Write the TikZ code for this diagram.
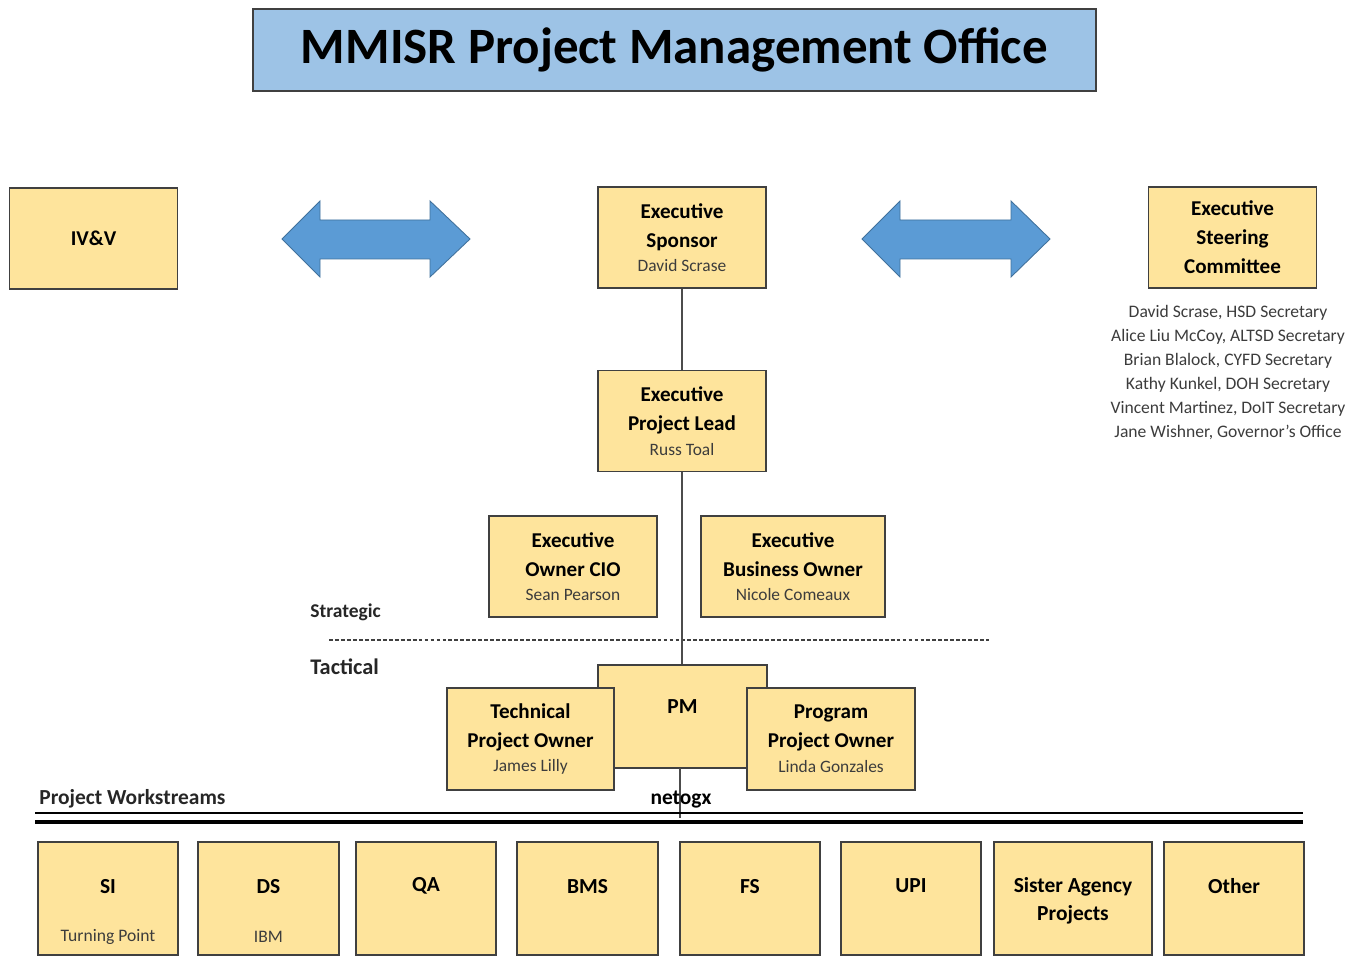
\documentclass[tikz,border=0pt]{standalone}
\usepackage{fontspec}
\setmainfont{Carlito}
\usepackage{tikz}
\usetikzlibrary{positioning,calc}

\definecolor{boxfill}{RGB}{254,228,156}
\definecolor{boxline}{RGB}{64,64,64}
\definecolor{titlefill}{RGB}{157,195,230}
\definecolor{arrowfill}{RGB}{91,155,213}
\definecolor{arrowline}{RGB}{65,113,156}
\definecolor{nametext}{RGB}{60,60,60}

% person under a role title
\newcommand{\who}[1]{\\[-2.5pt]{\mdseries\fontsize{9.9}{11}\selectfont\color{nametext}#1}}

\begin{document}
\begin{tikzpicture}[
    orgbox/.style={rectangle, draw=boxline, line width=1pt, fill=boxfill, align=center, inner sep=0pt, font=\fontsize{12}{16.5}\selectfont\bfseries},
    ebox/.style={orgbox, minimum width=3.36cm, minimum height=2.02cm},
    wbox/.style={orgbox, minimum width=2.8cm, minimum height=2.26cm},
    stream/.style={align=center, inner sep=0pt, font=\fontsize{12.2}{16}\selectfont\bfseries},
    vendor/.style={inner sep=0pt, text=nametext, font=\fontsize{10}{11}\selectfont},
    tag/.style={anchor=west, inner sep=0pt, font=\fontsize{12}{14}\selectfont\bfseries, text=black!85},
    link/.style={draw=black!70, line width=0.6pt},
    bigarrow/.style={fill=arrowfill, draw=arrowline, line width=0.5pt}
]
    \useasboundingbox (0,0) rectangle (27.18,-19.12);

    % Title
    \node[orgbox, fill=titlefill, minimum width=16.86cm, minimum height=1.64cm, font=\fontsize{29}{32}\selectfont\bfseries] (title) at (13.49,-1.0) {MMISR Project Management Office};

    % Executive layer
    \node[ebox] (ivv) at (1.87,-4.77) {IV\&V};
    \node[ebox] (sponsor) at (13.64,-4.75) {Executive\\Sponsor\who{David Scrase}};
    \node[ebox] (steering) at (24.65,-4.75) {Executive\\Steering\\Committee};
    \node[inner sep=0pt, anchor=north, align=center, text=nametext, font=\fontsize{10}{13.6}\selectfont] (members) at (24.56,-6.1)
        {David Scrase, HSD Secretary\\Alice Liu McCoy, ALTSD Secretary\\Brian Blalock, CYFD Secretary\\Kathy Kunkel, DOH Secretary\\Vincent Martinez, DoIT Secretary\\Jane Wishner, Governor’s Office};

    \filldraw[bigarrow] (5.64,-4.78) -- (6.4,-4.02) -- (6.4,-4.4) -- (8.6,-4.4) -- (8.6,-4.02) -- (9.4,-4.78)
        -- (8.6,-5.54) -- (8.6,-5.18) -- (6.4,-5.18) -- (6.4,-5.54) -- cycle;
    \filldraw[bigarrow] (17.24,-4.78) -- (18.0,-4.02) -- (18.0,-4.4) -- (20.22,-4.4) -- (20.22,-4.02) -- (21.0,-4.78)
        -- (20.22,-5.54) -- (20.22,-5.18) -- (18.0,-5.18) -- (18.0,-5.54) -- cycle;

    \node[ebox] (lead) at (13.64,-8.42) {Executive\\Project Lead\who{Russ Toal}};
    \node[ebox] (cio) at (11.46,-11.33) {Executive\\Owner CIO\who{Sean Pearson}};
    \node[ebox, minimum width=3.68cm] (business) at (15.86,-11.33) {Executive\\Business Owner\who{Nicole Comeaux}};

    % Strategic / tactical split
    \coordinate (splitL) at (6.58,-12.8);
    \coordinate (splitR) at (19.78,-12.8);
    \draw[black!75, line width=0.6pt, dash pattern=on 2.2pt off 1.2pt] (splitL) -- (splitR);
    \node[tag, font=\fontsize{11.1}{13}\selectfont\bfseries] (strategic) at (6.2,-12.24) {Strategic};
    \node[tag, font=\fontsize{12.7}{14}\selectfont\bfseries] (tactical) at (6.2,-13.34) {Tactical};

    % Project level
    \coordinate (wsjoin) at (13.6,-16.36);
    \draw[link] (sponsor) -- (lead);
    \draw[link] (lead) -- (lead |- 0,-13.3);
    \node[ebox, minimum width=3.38cm, minimum height=2.06cm] (pm) at (13.65,-14.33) {};
    \node[stream] (pmname) at ([yshift=-0.84cm]pm.north) {PM};
    \draw[link] (13.6,-15.36) -- (wsjoin);
    \node[ebox, minimum width=3.34cm, minimum height=2.04cm] (tech) at (10.61,-14.78) {Technical\\Project Owner\who{James Lilly}};
    \node[ebox, minimum height=2.04cm] (program) at (16.62,-14.78) {Program\\Project Owner\who{Linda Gonzales}};

    % Workstreams
    \node[tag, font=\fontsize{12.2}{14}\selectfont\bfseries] (workstreams) at (0.78,-15.98) {Project Workstreams};
    \node[stream, font=\fontsize{12.2}{14}\selectfont\bfseries] (netogx) at (13.62,-16.0) {netogx};
    \coordinate (wsL) at (0.7,-16.26);
    \coordinate (wsR) at (26.06,-16.26);
    \draw[black, line width=1.6pt] (wsL) -- (wsR);
    \draw[black, line width=2.8pt] ([yshift=-0.18cm]wsL) -- ([yshift=-0.18cm]wsR);

    \node[wbox] (si) at (2.16,-17.97) {};
    \node[wbox, minimum width=2.82cm] (ds) at (5.37,-17.97) {};
    \node[wbox] (qa) at (8.52,-17.97) {};
    \node[wbox, minimum width=2.82cm] (bms) at (11.75,-17.97) {};
    \node[wbox] (fs) at (15.0,-17.97) {};
    \node[wbox] (upi) at (18.22,-17.97) {};
    \node[wbox, minimum width=3.16cm] (sister) at (21.46,-17.97) {};
    \node[wbox] (other) at (24.68,-17.97) {};

    \node[stream] (siname) at ([yshift=-0.9cm]si.north) {SI};
    \node[vendor] (sivendor) at ([yshift=-1.92cm]si.north) {Turning Point};
    \node[stream] (dsname) at ([yshift=-0.9cm]ds.north) {DS};
    \node[vendor] (dsvendor) at ([yshift=-1.92cm]ds.north) {IBM};
    \node[stream] (qaname) at ([yshift=-0.9cm]qa.north) {QA};
    \node[stream] (bmsname) at ([yshift=-0.9cm]bms.north) {BMS};
    \node[stream] (fsname) at ([yshift=-0.9cm]fs.north) {FS};
    \node[stream] (upiname) at ([yshift=-0.9cm]upi.north) {UPI};
    \node[stream] (sistername) at ([yshift=-1.2cm]sister.north) {Sister Agency\\Projects};
    \node[stream] (othername) at ([yshift=-0.9cm]other.north) {Other};
\end{tikzpicture}
\end{document}
